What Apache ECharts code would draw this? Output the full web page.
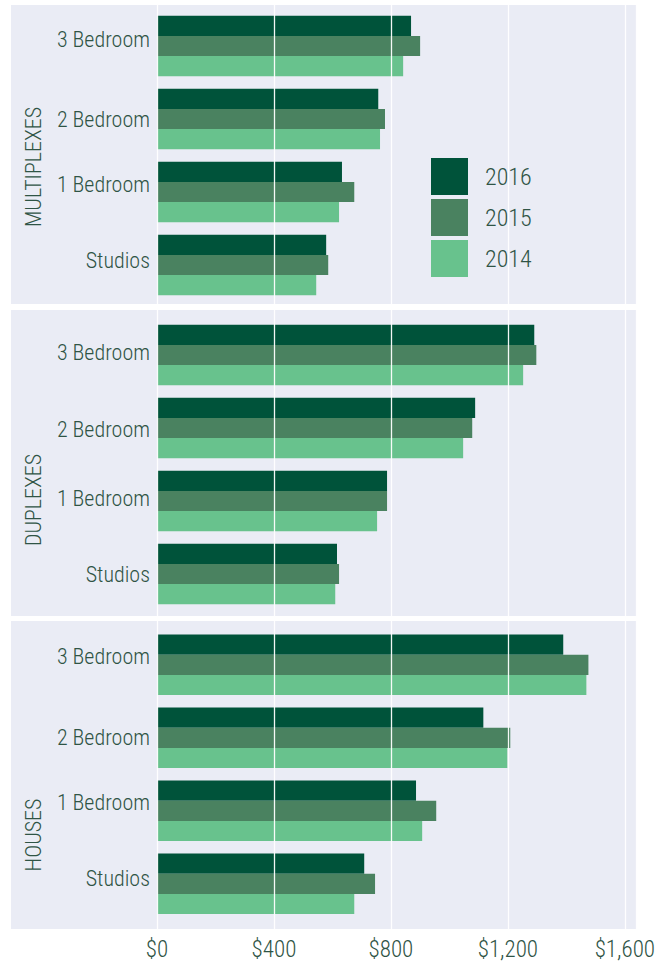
<!DOCTYPE html>
<html>
<head>
<meta charset="utf-8">
<script src="https://cdn.jsdelivr.net/npm/echarts@6/dist/echarts.min.js"></script>
<style>
html,body{margin:0;padding:0;background:#ffffff;}
#chart{width:658px;height:964px;}
</style>
</head>
<body>
<div id="chart"></div>
<script>
// ---- data ----
const categories = ['3 Bedroom', '2 Bedroom', '1 Bedroom', 'Studios'];
const years = ['2016', '2015', '2014'];
const panelNames = ['MULTIPLEXES', 'DUPLEXES', 'HOUSES'];
const xTicks = [0, 400, 800, 1200, 1600];

const multiplexes2016 = [868, 756, 632, 578];
const multiplexes2015 = [899, 779, 674, 585];
const multiplexes2014 = [841, 762, 622, 544];

const duplexes2016 = [1289, 1087, 786, 615];
const duplexes2015 = [1296, 1077, 786, 622];
const duplexes2014 = [1251, 1046, 752, 609];

const houses2016 = [1388, 1115, 885, 708];
const houses2015 = [1474, 1207, 954, 745];
const houses2014 = [1467, 1197, 906, 674];

// ---- styling ----
const FONT = "'Liberation Sans Narrow', 'Roboto Condensed', 'Liberation Sans', sans-serif";
const WEIGHT = 300;
const TEXT = '#2f5445';
const BG = '#eaecf5';
const COLORS = {'2016': '#00533a', '2015': '#4a8260', '2014': '#68c28d'};
const panelData = [
  [multiplexes2016, multiplexes2015, multiplexes2014],
  [duplexes2016, duplexes2015, duplexes2014],
  [houses2016, houses2015, houses2014]
];
const gridTops = [9.5, 318.5, 628.3];
const panelRects = [[5, 299], [310, 306], [621, 308]];
const titleY = [167, 500, 835];
const labelShift = [[-7, 0, -8, -5], [-3, 1, -3, 0], [-8, 0, -8, -5]];
const XMAX = 1640;

const grids = [], xAxes = [], yAxes = [], series = [];
for (let p = 0; p < 3; p++) {
  grids.push({left: 157, right: 21, top: gridTops[p], height: 292});
  xAxes.push({gridIndex: p, type: 'value', min: 0, max: XMAX, show: false});
  const rich = {};
  labelShift[p].forEach((s, i) => {
    rich['s' + i] = {
      fontFamily: FONT, fontSize: 22, fontWeight: WEIGHT, color: TEXT,
      padding: s < 0 ? [0, 0, -2 * s, 0] : [2 * s, 0, 0, 0]
    };
  });
  yAxes.push({
    gridIndex: p, type: 'category', data: categories, inverse: true,
    axisLine: {show: false}, axisTick: {show: false}, splitLine: {show: false},
    axisLabel: {
      margin: 7, fontFamily: FONT, fontSize: 22, fontWeight: WEIGHT, color: TEXT,
      formatter: (v, i) => '{s' + i + '|' + v + '}', rich: rich
    }
  });
  years.forEach((y, k) => {
    series.push({
      name: y, type: 'bar', xAxisIndex: p, yAxisIndex: p,
      data: panelData[p][k],
      barGap: '0%', barCategoryGap: '17%',
      itemStyle: {color: COLORS[y]},
      emphasis: {disabled: true}
    });
  });
}
// overlay grid carrying the vertical grid lines and tick labels
grids.push({left: 157, right: 21, top: 5, bottom: 35});
xAxes.push({
  gridIndex: 3, type: 'value', min: 0, max: XMAX, interval: 400, z: 10,
  axisLine: {show: false}, axisTick: {show: false},
  splitLine: {show: true, lineStyle: {color: '#ffffff', width: 1.3, opacity: 0.95}},
  axisLabel: {
    margin: 9, fontFamily: FONT, fontSize: 23, lineHeight: 22, fontWeight: WEIGHT, color: TEXT,
    formatter: v => xTicks.indexOf(v) >= 0 ? '$' + v.toLocaleString('en-US') : ''
  }
});
yAxes.push({gridIndex: 3, type: 'value', show: false});

const graphics = [];
panelRects.forEach(r => {
  graphics.push({type: 'rect', z: -100, shape: {x: 11, y: r[0], width: 626, height: r[1]}, style: {fill: BG}, silent: true});
});
panelNames.forEach((n, i) => {
  graphics.push({
    type: 'text', x: 33, y: titleY[i], rotation: Math.PI / 2, z: 5,
    style: {text: n, fontFamily: FONT, fontSize: 22, fontWeight: WEIGHT, fill: TEXT, align: 'center', verticalAlign: 'middle'}
  });
});

const chart = echarts.init(document.getElementById('chart'), null, {renderer: 'svg'});
chart.setOption({
  animation: false,
  backgroundColor: '#ffffff',
  grid: grids, xAxis: xAxes, yAxis: yAxes, series: series,
  graphic: {elements: graphics},
  legend: {
    data: years, orient: 'vertical', left: 426, top: 153,
    itemWidth: 37, itemHeight: 37, itemGap: 4, icon: 'rect',
    selectedMode: false,
    textStyle: {fontFamily: FONT, fontSize: 24, fontWeight: WEIGHT, color: TEXT, padding: [0, 0, 0, 12]}
  }
});
</script>
</body>
</html>
